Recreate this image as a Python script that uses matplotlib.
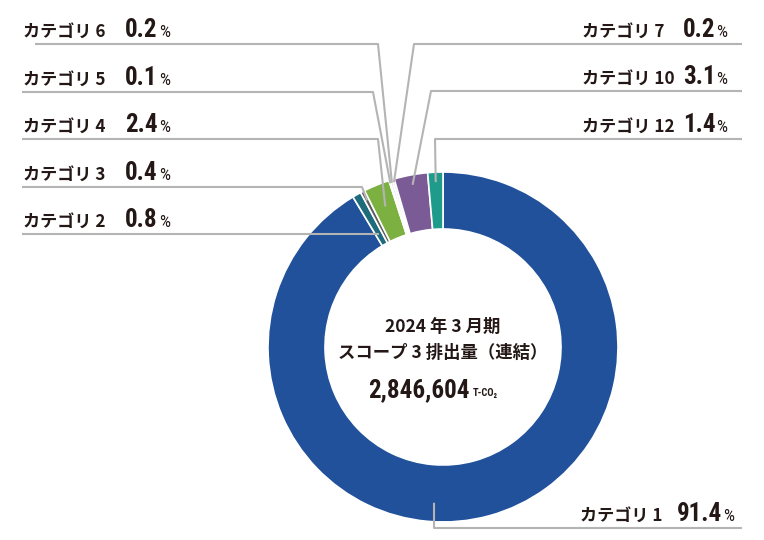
import numpy as np
import matplotlib
matplotlib.use('Agg')
import matplotlib.pyplot as plt

# データ
categories = ['カテゴリ 1', 'カテゴリ 2', 'カテゴリ 3', 'カテゴリ 4', 'カテゴリ 5',
              'カテゴリ 6', 'カテゴリ 7', 'カテゴリ 10', 'カテゴリ 12']
shares = [91.4, 0.8, 0.4, 2.4, 0.1, 0.2, 0.2, 3.1, 1.4]
colors = ['#20519a', '#1e6b7b', '#5e5e5e', '#7cb142', '#b5b5b5',
          '#cdcdcd', '#dadada', '#7a5b96', '#1f9b8b']
title_lines = ['2024 年 3 月期', 'スコープ 3 排出量（連結）']
total_value = '2,846,604'
total_unit = 'T-CO₂'

CJK = 'Noto Sans CJK JP'
NUM = ['Roboto Condensed', 'DejaVu Sans']
TXT = '#231815'
LINE = '#b4b4b4'

# 配置 (ピクセル座標, y は下向き)
cx, cy, R, ring = 443, 347, 175, 57
# index: (side, line y, bend x, anchor radius, angle override)
layout = {
    5: ('L', 44, 378, 172, None),
    4: ('L', 92, 373, 172, None),
    3: ('L', 139, 378, 152, None),
    2: ('L', 187, 362, 165, None),
    1: ('L', 234, None, None, None),
    6: ('R', 44, 414, 172, None),
    7: ('R', 91, 431, 165, None),
    8: ('R', 139, 435, 165, None),
    0: ('B', 528, 434, 156, 93.3),
}

fig = plt.figure(figsize=(7.64, 5.40), dpi=100)
ax = fig.add_axes([0, 0, 1, 1])

wedges, _ = ax.pie(shares, colors=colors, startangle=-90, counterclock=True,
                   radius=R, center=(cx, cy),
                   wedgeprops=dict(width=ring, edgecolor='white', linewidth=1.2))
ax.set_xlim(0, 764)
ax.set_ylim(540, 0)
ax.set_aspect('equal')
ax.axis('off')

for i, (side, ly, bend, r, ang) in layout.items():
    w = wedges[i]
    th = ang if ang is not None else (w.theta1 + w.theta2) / 2
    t = np.deg2rad(th)
    if r is None:
        r = (ly - cy) / np.sin(t)
    axx, ayy = cx + r * np.cos(t), cy + r * np.sin(t)
    if bend is None:
        bend = axx
    if side == 'L':
        x0 = 35 if i == 5 else 22
        xs = [x0, bend, axx]
        name_x, num_x, pct_x = 23, 125, 159
    else:
        xs = [742, bend, axx]
        name_x, num_x, pct_x = (582, 683, 716) if side == 'R' else (580, 677, 723)
    ax.plot(xs, [ly, ly, ayy], color=LINE, lw=1.5, solid_capstyle='butt', zorder=1)

    by = ly - 7
    ax.text(name_x, by, categories[i], family=CJK, weight='bold', fontsize=12.3,
            color=TXT, ha='left', va='baseline')
    ax.text(num_x, by, f'{shares[i]:.1f}', family=NUM, weight='bold', fontsize=18,
            color=TXT, ha='left', va='baseline')
    ax.text(pct_x, by, '%', family=NUM, fontsize=12.5, color=TXT,
            ha='left', va='baseline')

# 中央テキスト
ax.text(cx, 327, title_lines[0], family=CJK, weight='bold', fontsize=12.5,
        color=TXT, ha='center', va='center')
ax.text(cx, 353, title_lines[1], family=CJK, weight='bold', fontsize=12.5,
        color=TXT, ha='center', va='center')
ax.text(470, 397, total_value, family=NUM, weight='bold', fontsize=18,
        color=TXT, ha='right', va='baseline')
ax.text(473, 396, total_unit, family=NUM, weight='bold', fontsize=7.5,
        color=TXT, ha='left', va='baseline')

fig.savefig('out.png', dpi=100, facecolor='white')
